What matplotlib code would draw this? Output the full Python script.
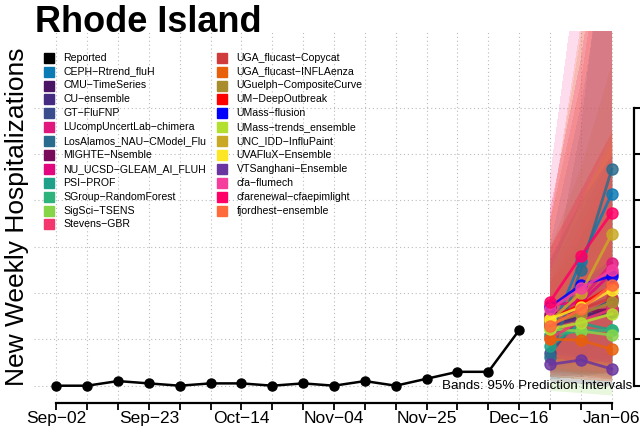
import matplotlib
matplotlib.use("Agg")
import matplotlib.pyplot as plt
from matplotlib.lines import Line2D

plt.rcParams['font.family'] = ['Liberation Sans', 'DejaVu Sans']

weeks = ['Sep−02', 'Sep−09', 'Sep−16', 'Sep−23', 'Sep−30', 'Oct−07', 'Oct−14',
         'Oct−21', 'Oct−28', 'Nov−04', 'Nov−11', 'Nov−18', 'Nov−25', 'Dec−02',
         'Dec−09', 'Dec−16', 'Dec−23', 'Dec−30', 'Jan−06']
reported = [0, 0, 2, 1, 0, 1, 1, 0, 1, 0, 2, 0, 3, 6, 6, 24]

models = ['CEPH−Rtrend_fluH', 'CMU−TimeSeries', 'CU−ensemble', 'GT−FluFNP',
          'LUcompUncertLab−chimera', 'LosAlamos_NAU−CModel_Flu', 'MIGHTE−Nsemble',
          'NU_UCSD−GLEAM_AI_FLUH', 'PSI−PROF', 'SGroup−RandomForest', 'SigSci−TSENS',
          'Stevens−GBR', 'UGA_flucast−Copycat', 'UGA_flucast−INFLAenza',
          'UGuelph−CompositeCurve', 'UM−DeepOutbreak', 'UMass−flusion',
          'UMass−trends_ensemble', 'UNC_IDD−InfluPaint', 'UVAFluX−Ensemble',
          'VTSanghani−Ensemble', 'cfa−flumech', 'cfarenewal−cfaepimlight',
          'fjordhest−ensemble']
colors = ['#0B7BB5', '#4B1566', '#452C80', '#3B4D8C', '#E0177D', '#2A6C8E',
          '#7A0B5A', '#E2077F', '#1FA088', '#2EB37C', '#86D549', '#F4366E',
          '#D03B3B', '#E8600A', '#A88C2E', '#FF0000', '#0000FF', '#B3E02E',
          '#C9A825', '#FDE725', '#6A35A0', '#F53D9E', '#FF0066', '#FF6A3D']

# median forecasts for Dec-23, Dec-30, Jan-06
median = [[22, 54, 83], [27, 30, 33], [26, 29, 32], [14, 30, 37],
          [30, 37, 53], [12.5, 50, 93.5], [31, 32, 33], [35, 36, 48.6],
          [17, 27, 24], [22, 23.6, 24], [24.4, 23.6, 21.8], [20.5, 28, 33],
          [26, 33, 38], [20, 19.7, 15.7], [27, 31, 36], [29, 35, 43],
          [34, 43.5, 47.4], [24.4, 27.2, 31], [28, 40, 65.5], [28.8, 34, 41.3],
          [9.2, 11.1, 7.2], [33, 42, 50], [36.3, 56, 74.7], [25.8, 33, 43.5]]
lower = [[8, 10, 12], [12, 10, 8], [10, 9, 8], [4, 5, 6], [10, 10, 12],
         [3, 4, 6], [15, 13, 11], [12, 10, 9], [6, 5, 4], [10, 9, 8],
         [-2, -3, -4], [6, 6, 5], [5, 4, 3], [8, 5, 3], [7, 6, 6],
         [10, 9, 8], [14, 12, 10], [8, 7, 6], [4, 3, 2], [10, 9, 8],
         [2, 1, 0], [8, 7, 6], [12, 11, 10], [4, 3, 2]]
upper = [[60, 120, 200], [45, 65, 85], [50, 75, 100], [55, 80, 105],
         [60, 85, 110], [40, 110, 220], [45, 60, 75], [55, 80, 105],
         [40, 65, 90], [35, 45, 55], [40, 50, 60], [45, 70, 95],
         [70, 130, 220], [45, 60, 80], [60, 95, 140], [60, 85, 110],
         [55, 80, 100], [50, 80, 110], [70, 150, 260], [55, 80, 105],
         [30, 45, 55], [89, 190, 280], [75, 140, 230], [70, 155, 250]]

fig = plt.figure(figsize=(6.4, 4.33), dpi=100)
ax = fig.add_axes([34 / 640, 30 / 433, 600 / 640, 372 / 433])

x_rep = list(range(len(reported)))
x_fc = [16, 17, 18]

for i, m in enumerate(models):
    ax.fill_between(x_fc, lower[i], upper[i], color=colors[i], alpha=0.18,
                    lw=0, antialiased=False, zorder=1)
for i, m in enumerate(models):
    ax.plot(x_fc, median[i], color=colors[i], lw=2, marker='o', ms=8,
            alpha=0.85, zorder=3)

ax.plot(x_rep, reported, color='black', lw=1.8, marker='o', ms=6.5, zorder=4)

ax.set_xlim(-0.72, 18.72)
ax.set_ylim(-7.47, 153.2)

ax.set_xticks(range(len(weeks)))
ax.set_xticklabels([w if i % 3 == 0 else '' for i, w in enumerate(weeks)],
                   fontsize=12.5)
ax.set_yticks(range(0, 121, 20))
ax.yaxis.tick_right()
ax.tick_params(axis='y', direction='out', length=8, width=1.5, labelright=False)
ax.tick_params(axis='x', direction='out', length=5, width=1.3, pad=1)

for s in ['top', 'left']:
    ax.spines[s].set_visible(False)
ax.spines['bottom'].set_bounds(0, 18)
ax.spines['bottom'].set_linewidth(1.6)
ax.spines['right'].set_bounds(0, 120)
ax.spines['right'].set_linewidth(1.6)

ax.grid(True, color='#BBBBBB', linestyle=(0, (1, 2.5)), lw=0.8, zorder=0)
ax.set_axisbelow(True)

ax.text(18.66, 0, 'Bands: 95% Prediction Intervals', ha='right', va='center',
        fontsize=9.6, zorder=5)

fig.text(35 / 640, 1 - 32 / 433, 'Rhode Island', fontsize=26,
         fontweight='bold', va='baseline')
fig.text(17 / 640, 1 - 216.5 / 433, 'New Weekly Hospitalizations',
         rotation=90, ha='center', va='center', fontsize=19)

# legend, two columns
names = ['Reported'] + models
cols = ['black'] + colors
for i, (n, c) in enumerate(zip(names, cols)):
    col, row = divmod(i, 13)
    x0 = [48.5, 222][col] / 640
    y0 = 1 - (57.7 + row * 13.9) / 433
    fig.add_artist(Line2D([x0], [y0], marker='s', ms=6.5, color=c, ls='',
                          transform=fig.transFigure))
    fig.text(x0 + 14.5 / 640, y0, n, va='center', fontsize=7.6)

fig.savefig('out.png', dpi=100)
